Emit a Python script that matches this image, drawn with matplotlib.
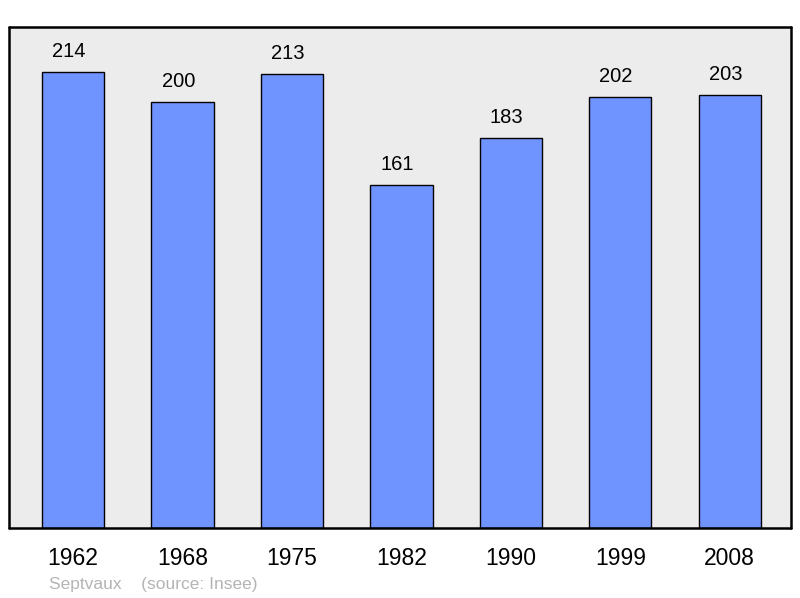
import numpy as np
import matplotlib
matplotlib.use('Agg')
import matplotlib.pyplot as plt

years = ['1962', '1968', '1975', '1982', '1990', '1999', '2008']
population = [214, 200, 213, 161, 183, 202, 203]

plt.rcParams['font.family'] = ['Liberation Sans', 'DejaVu Sans']

fig = plt.figure(figsize=(8, 5.98), dpi=100)
ax = fig.add_axes([9/800, 70/598, 782/800, 501/598])
ax.set_facecolor('#ececec')

x = np.arange(len(years))
ax.bar(x, population, width=0.57, color='#7094ff', edgecolor='black', linewidth=1)

for xi, v in zip(x, population):
    ax.annotate(str(v), (xi, v), xytext=(-3, 8), textcoords='offset points',
                ha='center', va='bottom', fontsize=14.5)

ax.set_xlim(-0.585, 6.56)
ax.set_ylim(0, 235)
ax.set_xticks(x)
ax.set_xticklabels(years, fontsize=16.5)
ax.tick_params(axis='x', length=0, pad=14)
ax.set_yticks([])
for s in ax.spines.values():
    s.set_linewidth(1.8)
    s.set_capstyle('round')
    s.set_joinstyle('round')

fig.text(49/800, 1 - 584/598, 'Septvaux    (source: Insee)', color='#b4b4b4',
         fontsize=12.5, va='center', ha='left')

fig.savefig('out.png', dpi=100)
